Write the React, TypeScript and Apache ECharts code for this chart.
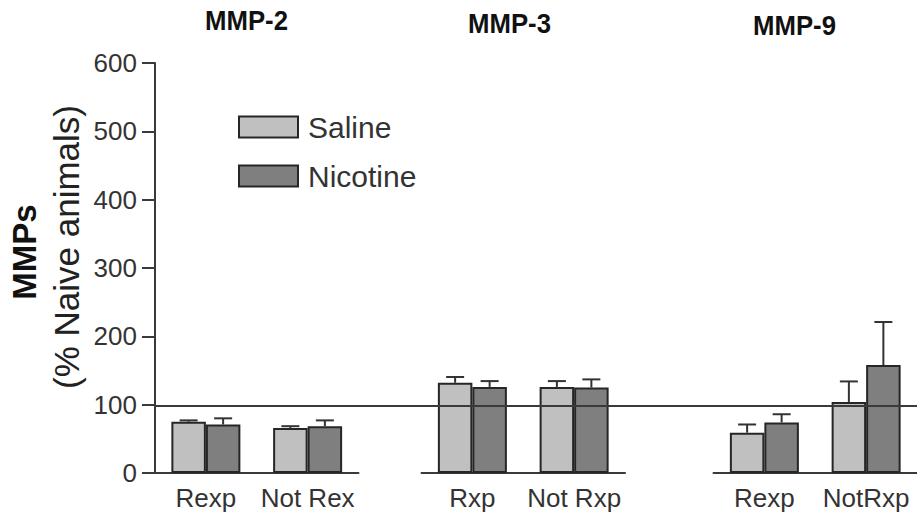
import React, { useEffect, useRef } from "react";
import * as echarts from "echarts";

// ---- data ----
const panelTitles = ["MMP-2", "MMP-3", "MMP-9"];
const mmp2Categories = ["Rexp", "Not Rex"];
const mmp3Categories = ["Rxp", "Not Rxp"];
const mmp9Categories = ["Rexp", "NotRxp"];
const salineMeans = [
  [75, 66],
  [132, 126],
  [59, 104],
];
const salineErrors = [
  [2, 2.5],
  [8.5, 8.5],
  [12, 30],
];
const nicotineMeans = [
  [71, 68.5],
  [126, 125],
  [74, 158],
];
const nicotineErrors = [
  [9, 8.5],
  [8.5, 12],
  [12, 63],
];
const yMin = 0;
const yMax = 600;
const yInterval = 100;
const referenceLevel = 98;
const seriesNames = ["Saline", "Nicotine"];

// ---- layout / style ----
const FONT = '"Liberation Sans", Arial, Helvetica, sans-serif';
const GRID_TOP = 63;
const GRID_BOTTOM = 49;
const PANEL_LEFTS = [155, 421.5, 713.5];
const PANEL_WIDTH = 203.5;
const BAR_WIDTH = 34.5;
const SALINE_COLOR = "#c0c0c0";
const NICOTINE_COLOR = "#7f7f7f";
const EDGE = "#262626";
const AXIS_COLOR = "#3a3a3a";
const TEXT_COLOR = "#333";
const TITLE_POS = [
  [205, 21],
  [468, 24],
  [753, 25.5],
];

const categoriesByPanel = [mmp2Categories, mmp3Categories, mmp9Categories];

function errorSeries(panel: number, means: number[], errs: number[], offset: number) {
  return {
    type: "custom",
    xAxisIndex: panel,
    yAxisIndex: panel,
    z: 6,
    silent: true,
    data: means.map((m, i) => [i, m, m + errs[i]]),
    renderItem: (_params: any, api: any) => {
      const base = api.coord([api.value(0), api.value(1)]);
      const top = api.coord([api.value(0), api.value(2)]);
      const x = base[0] + offset;
      return {
        type: "group",
        children: [
          {
            type: "line",
            shape: { x1: x, y1: base[1], x2: x, y2: top[1] },
            style: { stroke: "#333", lineWidth: 2 },
          },
          {
            type: "line",
            shape: { x1: x - 9, y1: top[1], x2: x + 9, y2: top[1] },
            style: { stroke: "#333", lineWidth: 2 },
          },
        ],
      };
    },
  };
}

export default function App() {
  const ref = useRef<HTMLDivElement>(null);

  useEffect(() => {
    if (!ref.current) return;
    const chart = echarts.init(ref.current, undefined, { renderer: "svg" });

    const grids: any[] = PANEL_LEFTS.map((left) => ({
      left,
      width: PANEL_WIDTH,
      top: GRID_TOP,
      bottom: GRID_BOTTOM,
      containLabel: false,
    }));
    grids.push({ left: 155, right: 0, top: GRID_TOP, bottom: GRID_BOTTOM });

    const xAxes: any[] = categoriesByPanel.map((cats, i) => ({
      type: "category",
      gridIndex: i,
      data: cats,
      axisLine: { show: true, lineStyle: { color: AXIS_COLOR, width: 2 } },
      axisTick: { show: false },
      axisLabel: {
        interval: 0,
        hideOverlap: false,
        fontSize: 26,
        color: TEXT_COLOR,
        fontFamily: FONT,
        margin: 12,
      },
      splitLine: { show: false },
    }));
    xAxes.push({ type: "value", gridIndex: 3, min: 0, max: 1, show: false });

    const yAxes: any[] = [0, 1, 2].map((i) => ({
      type: "value",
      gridIndex: i,
      min: yMin,
      max: yMax,
      interval: yInterval,
      show: i === 0,
      axisLine: { show: true, lineStyle: { color: AXIS_COLOR, width: 2 } },
      axisTick: { show: true, inside: false, length: 13, lineStyle: { color: AXIS_COLOR, width: 2 } },
      axisLabel: { fontSize: 26, color: TEXT_COLOR, fontFamily: FONT, margin: 18 },
      splitLine: { show: false },
    }));
    yAxes.push({ type: "value", gridIndex: 3, min: yMin, max: yMax, show: false });

    const series: any[] = [];
    for (let p = 0; p < 3; p++) {
      series.push({
        type: "bar",
        name: seriesNames[0],
        xAxisIndex: p,
        yAxisIndex: p,
        data: salineMeans[p],
        barWidth: BAR_WIDTH,
        barGap: "0%",
        itemStyle: { color: SALINE_COLOR, borderColor: EDGE, borderWidth: 2 },
        z: 2,
      });
      series.push({
        type: "bar",
        name: seriesNames[1],
        xAxisIndex: p,
        yAxisIndex: p,
        data: nicotineMeans[p],
        barWidth: BAR_WIDTH,
        barGap: "0%",
        itemStyle: { color: NICOTINE_COLOR, borderColor: EDGE, borderWidth: 2 },
        z: 2,
      });
      series.push(errorSeries(p, salineMeans[p], salineErrors[p], -BAR_WIDTH / 2));
      series.push(errorSeries(p, nicotineMeans[p], nicotineErrors[p], BAR_WIDTH / 2));
    }
    series.push({
      type: "line",
      xAxisIndex: 3,
      yAxisIndex: 3,
      data: [
        [0, referenceLevel],
        [1, referenceLevel],
      ],
      symbol: "none",
      silent: true,
      z: 10,
      lineStyle: { color: AXIS_COLOR, width: 2 },
    });

    const graphic: any[] = panelTitles.map((t, i) => ({
      type: "text",
      x: TITLE_POS[i][0],
      y: TITLE_POS[i][1],
      scaleX: 0.92,
      style: {
        text: t,
        fontSize: 28,
        fontWeight: "bold",
        fontFamily: FONT,
        fill: "#111",
        align: "left",
        verticalAlign: "middle",
      },
    }));
    graphic.push({
      type: "text",
      x: 24,
      y: 252,
      rotation: Math.PI / 2,
      style: {
        text: "MMPs",
        fontSize: 33,
        fontWeight: "bold",
        fontFamily: FONT,
        fill: "#111",
        align: "center",
        verticalAlign: "middle",
      },
    });
    graphic.push({
      type: "text",
      x: 66,
      y: 247,
      rotation: Math.PI / 2,
      style: {
        text: "(% Naive animals)",
        fontSize: 35,
        fontFamily: FONT,
        fill: "#222",
        align: "center",
        verticalAlign: "middle",
      },
    });

    chart.setOption({
      animation: false,
      backgroundColor: "#ffffff",
      grid: grids,
      xAxis: xAxes,
      yAxis: yAxes,
      legend: {
        data: seriesNames,
        orient: "vertical",
        left: 238,
        top: 112,
        padding: 0,
        itemWidth: 59,
        itemHeight: 21,
        itemGap: 19,
        icon: "rect",
        selectedMode: false,
        textStyle: { fontSize: 30, color: TEXT_COLOR, fontFamily: FONT, padding: [0, 0, 0, 5] },
      },
      graphic,
      series,
    });

    return () => chart.dispose();
  }, []);

  return (
    <div
      ref={ref}
      style={{ position: "fixed", left: 0, top: 0, width: 917, height: 522, background: "#fff" }}
    />
  );
}
